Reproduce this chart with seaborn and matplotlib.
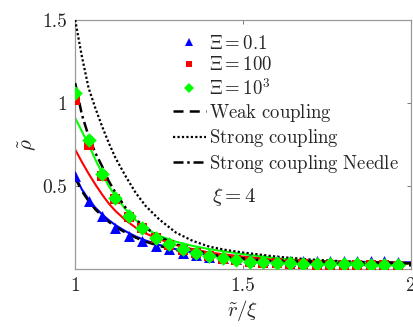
#Density profiles near the needle: simulations vs coupling limits

#LIBRARIES
import numpy as np
import pandas as pd
import matplotlib
matplotlib.use('Agg')
import matplotlib.pyplot as plt
import seaborn as sns
from matplotlib.lines import Line2D

#DATA
#Simulation points
r_sim=[1.00,1.04,1.08,1.12,1.16,1.20,1.24,1.28,1.32,1.36,1.40,1.44,1.48,
       1.52,1.56,1.60,1.64,1.68,1.72,1.76,1.80,1.84,1.88,1.92,1.96]
rho_xi01=[0.56,0.41,0.32,0.25,0.20,0.17,0.14,0.12,0.10,0.085,0.075,0.068,0.062,
          0.058,0.055,0.053,0.051,0.050,0.049,0.048,0.047,0.047,0.046,0.046,0.045]
rho_xi100=[1.02,0.745,0.56,0.42,0.315,0.245,0.19,0.148,0.118,0.095,0.077,0.063,0.053,
           0.044,0.038,0.034,0.031,0.029,0.027,0.026,0.025,0.024,0.023,0.022,0.021]
rho_xi1000=[1.06,0.78,0.57,0.43,0.32,0.25,0.19,0.15,0.12,0.10,0.08,0.065,0.056,
            0.045,0.040,0.037,0.035,0.033,0.031,0.030,0.029,0.028,0.027,0.026,0.025]

#Theory curves
r_th=[1.00,1.02,1.04,1.06,1.08,1.10,1.12,1.15,1.18,1.21,1.25,1.30,1.35,1.40,
      1.45,1.50,1.60,1.70,1.80,1.90,2.00]
th_xi01=[0.56,0.48,0.42,0.37,0.33,0.295,0.265,0.228,0.197,0.172,0.146,0.12,0.10,0.086,
         0.076,0.068,0.057,0.050,0.045,0.042,0.040]
th_xi100=[0.72,0.645,0.575,0.51,0.45,0.395,0.35,0.295,0.25,0.215,0.18,0.145,0.12,0.10,
          0.087,0.075,0.058,0.047,0.040,0.035,0.032]
th_xi1000=[0.91,0.83,0.75,0.66,0.58,0.50,0.44,0.36,0.295,0.245,0.20,0.165,0.14,0.12,
           0.105,0.09,0.065,0.05,0.042,0.037,0.034]
weak=[0.55,0.47,0.41,0.36,0.32,0.285,0.255,0.22,0.19,0.165,0.14,0.115,0.097,0.083,
      0.073,0.065,0.054,0.047,0.042,0.039,0.037]
strong=[1.50,1.28,1.09,0.97,0.86,0.76,0.67,0.56,0.46,0.38,0.30,0.22,0.17,0.135,
        0.115,0.10,0.075,0.058,0.047,0.04,0.035]
needle=[1.12,0.93,0.80,0.70,0.62,0.53,0.46,0.37,0.30,0.25,0.195,0.15,0.115,0.09,
        0.073,0.06,0.045,0.035,0.03,0.026,0.023]

#STYLE
sns.set_style('ticks')
plt.rcParams['font.family']='serif'
plt.rcParams['font.serif']=['cmr10','DejaVu Serif']
plt.rcParams['mathtext.fontset']='cm'
plt.rcParams['axes.formatter.use_mathtext']=True
plt.rcParams['axes.unicode_minus']=False

fig=plt.figure(figsize=(4.13,3.27),dpi=100)
ax=fig.add_axes([0.182,0.177,0.813,0.762])

#Theory lines
sns.lineplot(x=r_th,y=th_xi01,ax=ax,color='#0000ff',lw=1.5,zorder=2)
sns.lineplot(x=r_th,y=th_xi100,ax=ax,color='#ff0000',lw=1.5,zorder=2)
sns.lineplot(x=r_th,y=th_xi1000,ax=ax,color='#00ff00',lw=1.5,zorder=2)
sns.lineplot(x=r_th,y=weak,ax=ax,color='black',lw=1.8,linestyle=(0,(4,2.5)),zorder=3)
sns.lineplot(x=r_th,y=strong,ax=ax,color='black',lw=1.6,linestyle=(0,(1,1)),zorder=3)
sns.lineplot(x=r_th,y=needle,ax=ax,color='black',lw=1.8,linestyle=(0,(4,1.5,1,1.5)),zorder=3)

#Simulation markers
sns.scatterplot(x=r_sim,y=rho_xi01,ax=ax,marker='^',color='#0000ff',s=62,linewidth=0,zorder=4)
sns.scatterplot(x=r_sim,y=rho_xi100,ax=ax,marker='s',color='#ff0000',s=46,linewidth=0,zorder=5)
sns.scatterplot(x=r_sim,y=rho_xi1000,ax=ax,marker='D',color='#00ff00',s=55,linewidth=0,zorder=6)

ax.set_xlim(1,2)
ax.set_ylim(0,1.5)
ax.set_xticks([1,1.5,2])
ax.set_xticklabels(['1','1.5','2'])
ax.set_yticks([0.5,1,1.5])
ax.set_yticklabels(['0.5','1','1.5'])
ax.tick_params(direction='in',top=True,right=True,length=3,width=0.6,color='0.4',labelsize=14,pad=6)
for s in ax.spines.values():
    s.set_color('0.6')
    s.set_linewidth(0.9)

ax.set_xlabel(r'$\tilde{r}/\xi$',fontsize=15,labelpad=2)
ax.set_ylabel(r'$\tilde{\rho}$',fontsize=15,labelpad=2)
ax.text(0.408,0.29,r'$\xi=4$',transform=ax.transAxes,fontsize=15,va='center',ha='left')

#Legend
handles=[Line2D([],[],ls='none',marker='^',color='#0000ff',ms=6,mew=0),
         Line2D([],[],ls='none',marker='s',color='#ff0000',ms=5,mew=0),
         Line2D([],[],ls='none',marker='D',color='#00ff00',ms=5,mew=0),
         Line2D([],[],color='black',lw=1.8,ls=(0,(4,2.5))),
         Line2D([],[],color='black',lw=1.6,ls=(0,(1,1))),
         Line2D([],[],color='black',lw=1.8,ls=(0,(4,1.5,1,1.5)))]
labels=[r'$\Xi=0.1$',r'$\Xi=100$',r'$\Xi=10^3$',
        r'$\mathrm{Weak\ coupling}$',r'$\mathrm{Strong\ coupling}$',r'$\mathrm{Strong\ coupling\ Needle}$']
ax.legend(handles=handles,labels=labels,loc='upper left',bbox_to_anchor=(0.29,0.94),
          frameon=False,fontsize=13.5,handlelength=1.8,handletextpad=0.12,
          labelspacing=0.18,borderpad=0,borderaxespad=0)

plt.savefig('out.png',dpi=100)
